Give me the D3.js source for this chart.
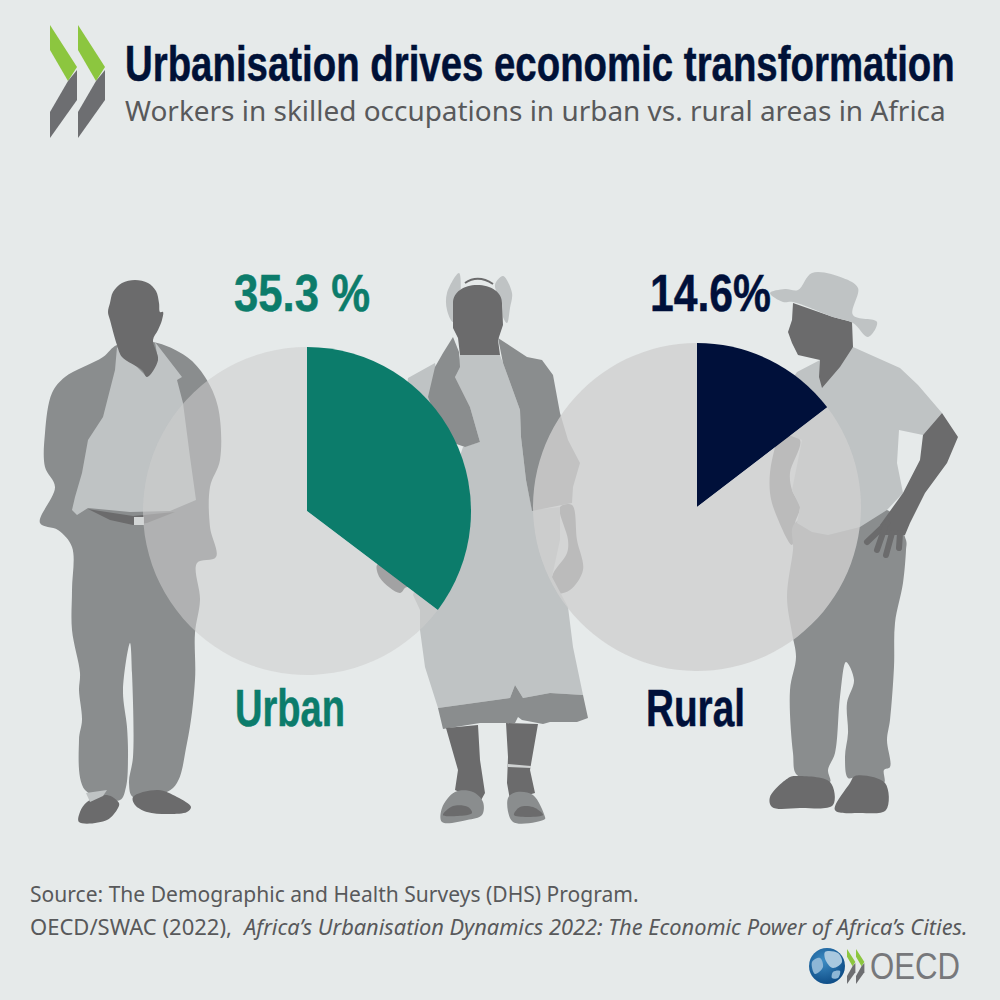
<!DOCTYPE html>
<html>
<head>
<meta charset="utf-8">
<script src="https://cdn.jsdelivr.net/npm/d3@7"></script>
<style>
  html, body { margin: 0; padding: 0; background: #e6eaea; }
  svg { display: block; }
</style>
</head>
<body>
<svg id="chart" width="1000" height="1000"></svg>
<script>
// values
var categories = ["Urban", "Rural"]
var shares = [35.3, 14.6]
var shareLabels = ["35.3 %", "14.6%"]

var skin = "#6b6b6c", cloth = "#8a8d8e", light = "#bfc3c4"

var svg = d3.select("#chart")
svg.append("rect").attr("width", 1000).attr("height", 1000).attr("fill", "#e6eaea")

var blob = d3.line().curve(d3.curveCatmullRomClosed.alpha(0.5))
var poly = d3.line().curve(d3.curveLinearClosed)

function shape(parent, pts, color, sharp) {
    return parent.append("path")
                 .attr("d", (sharp ? poly : blob)(pts))
                 .attr("fill", color)
}

// OECD chevrons
function chevron(parent, dx, k, ox, oy) {
    var g = parent.append("g").attr("transform", "translate(" + (ox + dx) + "," + oy + ") scale(" + k + ")")
    shape(g, [[0,0],[27,42],[18,56],[0,25]], "#8cc63f", true)
    shape(g, [[18,56],[27,45],[27,75],[0,113],[0,87]], "#6d6e71", true)
}
chevron(svg, 0, 1, 50, 25)
chevron(svg, 28, 1, 50, 25)

// silhouettes, decoration behind the pies
var man = svg.append("g")
shape(man, [[117,345],[103,357],[65,377],[52,393],[45,433],[45,467],[55,487],[40,523],[58,530],[72,547],[72,590],[72,630],[80,673],[79,690],[82,720],[79,740],[85,790],[120,800],[126,787],[128,757],[127,727],[123,690],[130,643],[132,673],[133,757],[129,783],[133,797],[173,788],[187,743],[195,680],[195,633],[200,600],[197,563],[216,557],[210,527],[210,487],[220,460],[218,407],[205,377],[187,357],[153,342]], cloth)
shape(man, [[117,347],[147,377],[158,360],[155,342],[182,377],[177,380],[183,403],[190,457],[196,500],[170,511],[130,512],[88,508],[77,515],[72,510],[75,497],[82,473],[88,440],[103,417],[115,370]], light, true)
shape(man, [[88,509],[100,511],[133,516],[175,512],[147,523],[133,525],[110,520]], skin, true)
shape(man, [[134,517],[144,517],[144,525],[134,525]], "#d3d6d6", true)
shape(man, [[110,303],[113,292],[122,283],[135,280],[148,283],[156,291],[159,303],[160,312],[163,312],[162,320],[158,330],[153,340],[158,360],[147,377],[142,370],[122,357],[117,345],[110,320],[108,312]], skin)
shape(man, [[87,802],[107,795],[119,803],[118,808],[107,820],[79,822],[80,812]], skin)
shape(man, [[133,797],[158,790],[177,797],[191,807],[187,812],[167,814],[147,812],[135,805]], skin)
shape(man, [[86,793],[107,790],[103,796],[90,802]], light, true)

var woman = svg.append("g")
shape(woman, [[459,273],[447,293],[447,310],[453,322],[460,300]], light)
shape(woman, [[503,276],[495,285],[502,303],[503,317],[507,323],[510,308],[512,293]], light)
woman.append("path").attr("d", "M465,283Q478,274 493,284").attr("fill", "none").attr("stroke", skin).attr("stroke-width", 2)
// sleeve and hands
shape(woman, [[435,363],[408,378],[400,450],[395,540],[410,585],[450,450]], light, true)
shape(woman, [[377,565],[380,578],[400,593],[405,588],[410,585],[385,563]], skin)
shape(woman, [[560,507],[572,505],[577,540],[583,570],[570,590],[557,593],[552,577],[567,553],[568,540]], skin)
shape(woman, [[552,590],[556,593],[552,596],[551,592]], "#4c4c4d", true)
shape(woman, [[460,355],[500,355],[503,363],[520,410],[521,437],[526,480],[532,510],[560,507],[560,540],[552,577],[568,607],[573,647],[583,695],[550,693],[523,698],[515,685],[510,698],[438,708],[425,667],[420,630],[420,610],[413,595],[463,447],[480,442],[470,407],[455,377]], light, true)
shape(woman, [[453,337],[459,352],[460,367],[455,377],[470,407],[480,442],[465,447],[445,440],[428,397],[435,367],[443,353]], cloth, true)
shape(woman, [[498,338],[527,357],[542,360],[553,375],[560,413],[568,440],[580,463],[573,487],[572,503],[532,511],[526,480],[521,437],[520,410],[503,363]], cloth, true)
shape(woman, [[438,708],[510,698],[515,685],[523,698],[550,693],[583,695],[588,718],[577,722],[550,722],[543,724],[522,720],[518,717],[515,723],[503,723],[480,723],[443,729]], cloth, true)
shape(woman, [[446,728],[478,725],[480,760],[485,793],[480,802],[455,790],[458,770]], skin, true)
shape(woman, [[506,723],[538,724],[530,770],[535,793],[510,800],[507,783],[508,757]], skin, true)
shape(woman, [[508,764],[531,766],[531,768],[508,767]], "#cfd2d2", true)
shape(woman, [[442,808],[455,792],[473,792],[483,802],[482,815],[467,820],[442,822]], cloth)
shape(woman, [[443,815],[453,806],[468,807],[472,813],[458,816]], skin)
shape(woman, [[508,798],[517,792],[533,795],[545,817],[545,819],[513,822]], cloth)
shape(woman, [[514,815],[520,807],[533,807],[543,815]], skin)
woman.append("path")
     .attr("d", "M453,303C453,292 464,285 477,285C491,285 502,292 502,303L503,325L498,340L500,355L460,355L458,338L453,328Z")
     .attr("fill", skin)

var farmer = svg.append("g")
shape(farmer, [[800,440],[790,473],[792,490],[800,507],[795,523],[792,545],[777,517],[770,493],[772,460],[783,433]], skin)
shape(farmer, [[887,510],[906,540],[906,550],[903,583],[895,623],[894,667],[890,720],[887,740],[890,767],[884,770],[884,783],[857,777],[848,778],[845,757],[848,733],[847,703],[854,680],[846,662],[840,697],[835,753],[828,770],[830,782],[797,775],[793,753],[790,690],[796,657],[792,633],[787,597],[793,550],[795,523]], cloth)
shape(farmer, [[820,360],[797,372],[785,390],[783,433],[802,440],[792,490],[800,507],[797,523],[812,532],[828,535],[860,527],[887,510],[903,493],[897,463],[899,430],[923,435],[942,413],[918,385],[900,368],[853,347]], light, true)
shape(farmer, [[942,413],[958,437],[947,463],[925,493],[910,523],[905,535],[885,535],[880,525],[903,493],[920,460],[923,435]], skin, true)
farmer.append("g").selectAll("line")
      .data([[887,523,867,542],[885,527,877,550],[892,533,886,555],[900,533,899,548]])
      .enter().append("line")
      .attr("x1", d => d[0]).attr("y1", d => d[1]).attr("x2", d => d[2]).attr("y2", d => d[3])
      .attr("stroke", skin).attr("stroke-width", 6).attr("stroke-linecap", "round")
shape(farmer, [[793,303],[833,317],[852,322],[853,347],[840,367],[822,388],[819,377],[820,360],[798,355],[792,343],[788,332],[792,320]], skin, true)
shape(farmer, [[770,293],[785,289],[798,290],[812,273],[843,278],[858,288],[853,315],[877,322],[868,337],[853,323],[833,317],[793,302],[783,302]], light)
shape(farmer, [[770,797],[790,777],[797,776],[830,782],[833,805],[800,808],[772,807]], skin)
shape(farmer, [[835,810],[850,783],[855,776],[885,783],[886,810],[860,813]], skin)

// pies, through d3.pie and d3.arc
var centers = [[307, 511], [697, 507]]
var restFill = ["rgb(205,205,205)", "rgb(207,207,207)"]
var restOpacity = [0.565, 0.8]
var sliceFill = ["#0c7c6b", "#00103a"]

var pie = d3.pie().sort(null)
var arc = d3.arc().innerRadius(0).outerRadius(164)

categories.forEach(function(cat, i) {
    var g = svg.append("g").attr("transform", "translate(" + centers[i] + ")")
    g.selectAll("path")
     .data(pie([shares[i], 100 - shares[i]]))
     .enter()
     .append("path")
     .attr("d", arc)
     .attr("fill", (d, j) => j == 0 ? sliceFill[i] : restFill[i])
     .attr("fill-opacity", (d, j) => j == 0 ? 1 : restOpacity[i])
})

function label(txt, x, y, w, size, color, family, weight, style, heavy) {
    var t = svg.append("text")
               .style("font-family", family)
               .style("font-size", size + "px")
               .style("font-weight", weight || "normal")
               .style("font-style", style || "normal")
               .attr("fill", color)
               .text(txt)
    if (heavy) t.attr("stroke", color).attr("stroke-width", heavy)
    var len = t.node().getComputedTextLength()
    t.attr("transform", "translate(" + x + "," + y + ") scale(" + (w / len) + ",1)")
    return t
}

var narrow = "'Liberation Sans Narrow', 'Liberation Sans', sans-serif"
var noto = "'Noto Sans', sans-serif"

label("Urbanisation drives economic transformation", 125, 81, 830, 50, "#001137", narrow, "bold", null, 0.5)
label("Workers in skilled occupations in urban vs. rural areas in Africa", 125, 121, 821, 27.5, "#58595b", noto)

var valueX = [234, 650], valueW = [136, 121]
var nameX = [235, 646], nameW = [110, 99]
categories.forEach(function(cat, i) {
    label(shareLabels[i], valueX[i], 311, valueW[i], 51, sliceFill[i], narrow, "bold", null, 0.5)
    label(cat, nameX[i], 726, nameW[i], 51, sliceFill[i], narrow, "bold", null, 0.5)
})

label("Source: The Demographic and Health Surveys (DHS) Program.", 30, 902, 609, 21, "#58595b", noto)
label("OECD/SWAC (2022),", 30, 935, 202, 21, "#58595b", noto)
label("Africa\u2019s Urbanisation Dynamics 2022: The Economic Power of Africa\u2019s Cities.", 244, 935, 724, 21, "#58595b", noto, "normal", "italic")

// OECD logo, bottom right
var defs = svg.append("defs")
var grad = defs.append("radialGradient").attr("id", "globe").attr("cx", "0.4").attr("cy", "0.35").attr("r", "0.7")
grad.append("stop").attr("offset", "0").attr("stop-color", "#3d8cc4")
grad.append("stop").attr("offset", "1").attr("stop-color", "#0c4a84")
svg.append("circle").attr("cx", 827).attr("cy", 966).attr("r", 18).attr("fill", "url(#globe)")
shape(svg, [[825,952],[838,953],[842,962],[833,968],[826,961]], "#a9c8df")
shape(svg, [[812,962],[820,958],[823,967],[815,974]], "#8db6d6")
shape(svg, [[833,972],[840,971],[838,978],[832,978]], "#8db6d6")
chevron(svg, 0, 0.31, 847, 949)
chevron(svg, 9, 0.31, 847, 949)
label("OECD", 870, 979, 90, 37, "#77787b", "'Liberation Sans', sans-serif")
</script>
</body>
</html>
